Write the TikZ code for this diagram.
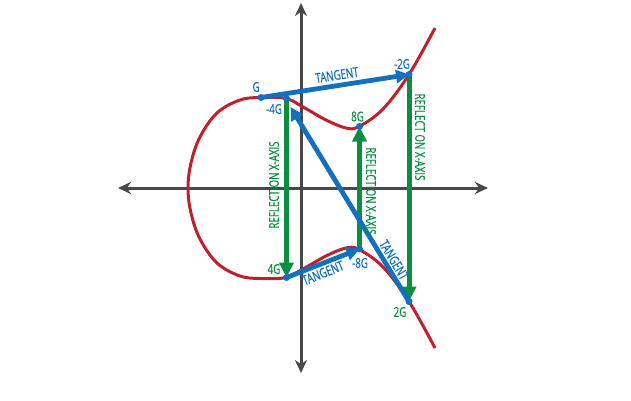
\documentclass[tikz,border=0pt]{standalone}
\usepackage{fontspec}
\setmainfont{Open Sans}[FakeStretch=0.72,FakeBold=0.6]
\usetikzlibrary{arrows.meta}
\definecolor{axgray}{RGB}{72,72,72}
\definecolor{cred}{RGB}{192,32,45}
\definecolor{cblue}{RGB}{18,112,190}
\definecolor{cgreen}{RGB}{10,142,64}
\tikzset{
  axis/.style={draw=axgray, line width=3pt, {Stealth[length=13pt,width=12pt]}-{Stealth[length=13pt,width=12pt]}},
  curve/.style={draw=cred, line width=3pt},
  bluearrow/.style={draw=cblue, line width=4.8pt, -{Triangle[length=13pt,width=13pt]}},
  greenarrow/.style={draw=cgreen, line width=5pt, -{Triangle[length=15pt,width=14pt]}},
  dot/.style={fill=cblue, circle, inner sep=0pt, minimum size=7pt},
  bluelbl/.style={text=cblue, font=\fontsize{13.5}{13.5}\selectfont, inner sep=0pt},
  greenlbl/.style={text=cgreen, font=\fontsize{13.5}{13.5}\selectfont, inner sep=0pt},
}
\begin{document}
\begin{tikzpicture}[x=1pt,y=-1pt]
\useasboundingbox (0,0) rectangle (631,401);
% axes
\coordinate (xl) at (118,188);
\coordinate (xr) at (488,188);
\coordinate (yt) at (301,3);
\coordinate (yb) at (301,373);
\draw[axis] (xl) -- (xr);
\draw[axis] (yt) -- (yb);
% curve
\draw[curve] plot[smooth, tension=0.6] coordinates {(435,28) (409,74.5) (383,109) (359,126.5) (346,128) (326,120) (303,107) (286,98.5) (261,97.5) (240,100) (217,113) (200,137) (191,163) (188,188) (191,213) (200,239) (217,263) (240,276) (261,278.5) (286,277.5) (303,269) (326,256) (346,248) (359,249.5) (383,267) (409,301.5) (435,348)};
% points
\coordinate (G) at (261,97.5);
\coordinate (m4G) at (286.5,98.5);
\coordinate (m2G) at (409,74.5);
\coordinate (p8G) at (359.5,126.5);
\coordinate (p4G) at (286.5,277.5);
\coordinate (m8G) at (359.5,249);
\coordinate (p2G) at (409,301.5);
\coordinate (m4Gtip) at (290.5,107);
% green reflections
\draw[greenarrow] (m4G) -- (p4G);
\draw[greenarrow] (m8G) -- (p8G);
\draw[greenarrow] (m2G) -- (p2G);
% blue tangents
\draw[bluearrow] (G) -- (m2G);
\draw[bluearrow] (p2G) -- (m4Gtip);
\draw[bluearrow] (p4G) -- (m8G);
% dots
\foreach \p in {G,m4G,m2G,p8G,p4G,m8G,p2G} \node[dot] at (\p) {};
% point labels
\node[bluelbl] (lG) at (256,87) {G};
\node[bluelbl] (lm4G) at (274,109) {-4G};
\node[bluelbl] (lm2G) at (402,64) {-2G};
\node[greenlbl] (l8G) at (357.5,116.5) {8G};
\node[greenlbl] (l4G) at (274,269) {4G};
\node[bluelbl] (lm8G) at (360,263) {-8G};
\node[greenlbl] (l2G) at (400,312) {2G};
% tangent labels
\node[bluelbl, rotate=8.8] (t1) at (337,75) {TANGENT};
\node[bluelbl, rotate=-59] (t2) at (394,260) {TANGENT};
\node[bluelbl, rotate=22] (t3) at (323,273) {TANGENT};
% reflection labels
\node[greenlbl, rotate=90] (r1) at (274,185) {REFLECTION X-AXIS};
\node[greenlbl, rotate=-90] (r2) at (371,191) {REFLECTION X-AXIS};
\node[greenlbl, rotate=-90] (r3) at (420,137) {REFLECT ON X-AXIS};
\end{tikzpicture}
\end{document}
